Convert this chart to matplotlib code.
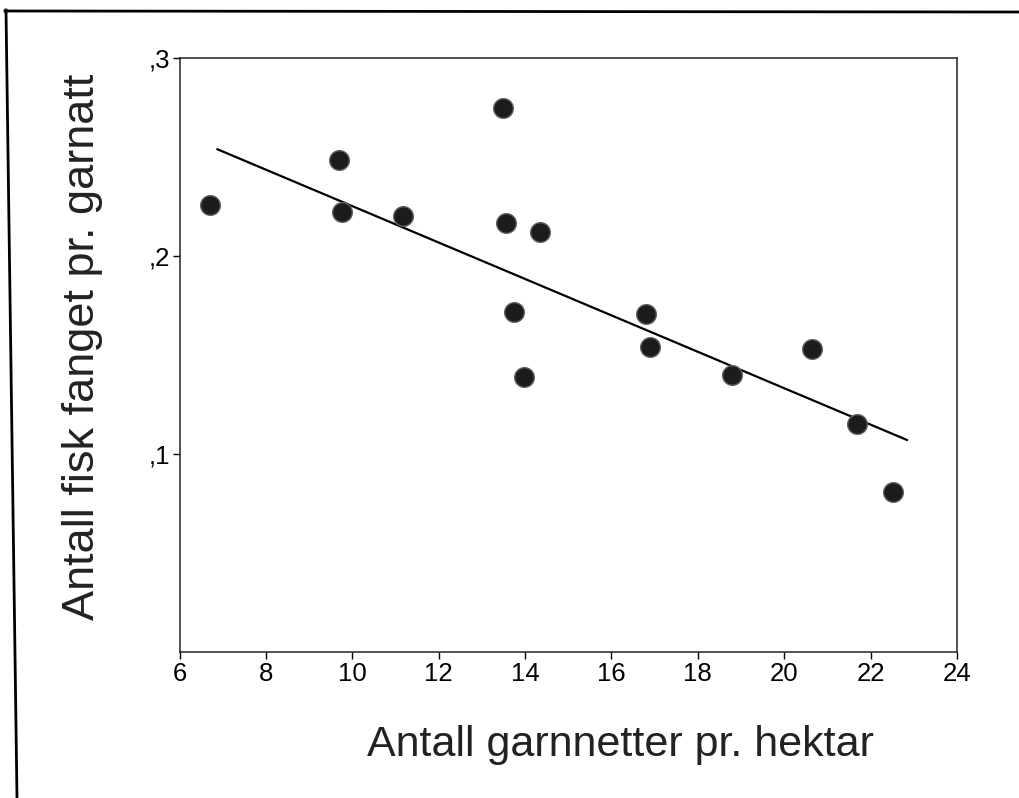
import matplotlib
matplotlib.use("Agg")
import matplotlib.pyplot as plt
from matplotlib.lines import Line2D

# Data
garn_per_ha = [6.71, 9.70, 9.76, 11.17, 13.48, 13.56, 14.34, 13.75, 13.98,
               16.81, 16.90, 18.78, 20.64, 21.68, 22.51]
fisk_per_natt = [0.226, 0.2485, 0.222, 0.220, 0.275, 0.2165, 0.212, 0.1715, 0.139,
                 0.1705, 0.154, 0.140, 0.153, 0.115, 0.081]

# fitted line end points as drawn in the figure
fit_x = [6.88, 22.84]
fit_y = [0.2539, 0.1071]

x_ticks = [6, 8, 10, 12, 14, 16, 18, 20, 22, 24]
y_ticks = [0.1, 0.2, 0.3]
y_tick_labels = [",1", ",2", ",3"]

plt.rcParams["font.family"] = ["Liberation Sans", "DejaVu Sans"]

W, H = 1019, 798
fig = plt.figure(figsize=(W / 100, H / 100), dpi=100)
ax = fig.add_axes([179.5 / W, 1 - 652 / H, 777.5 / W, 594 / H])

ax.plot(fit_x, fit_y, color="black", linewidth=1.6, zorder=2)
ax.scatter(garn_per_ha, fisk_per_natt, s=200, color="#1c1c1c",
           edgecolors="#606060", linewidths=1.0, zorder=3)

ax.set_xlim(6, 24)
ax.set_ylim(0, 0.3)
ax.set_xticks(x_ticks)
ax.set_xticklabels([str(t) for t in x_ticks])
ax.set_yticks(y_ticks)
ax.set_yticklabels(y_tick_labels)
ax.tick_params(direction="out", length=5, width=1.0, labelsize=18.5,
               colors="black", pad=2)
for s in ax.spines.values():
    s.set_linewidth(1.1)
    s.set_color("#222222")

fig.text(620 / W, 1 - 745 / H, "Antall garnnetter pr. hektar", fontsize=31,
         ha="center", va="center", color="#222222")
fig.text(83 / W, 1 - 347 / H, "Antall fisk fanget pr. garnatt", fontsize=32.5,
         ha="center", va="center", rotation=90, color="#222222")

# scan frame lines
fig.add_artist(Line2D([6 / W, 17 / W], [1 - 10 / H, 0], color="black", linewidth=2.0))
fig.add_artist(Line2D([5 / W, 1], [1 - 11 / H, 1 - 12 / H], color="black", linewidth=2.0))

fig.savefig("out.png", dpi=100, facecolor="white")
